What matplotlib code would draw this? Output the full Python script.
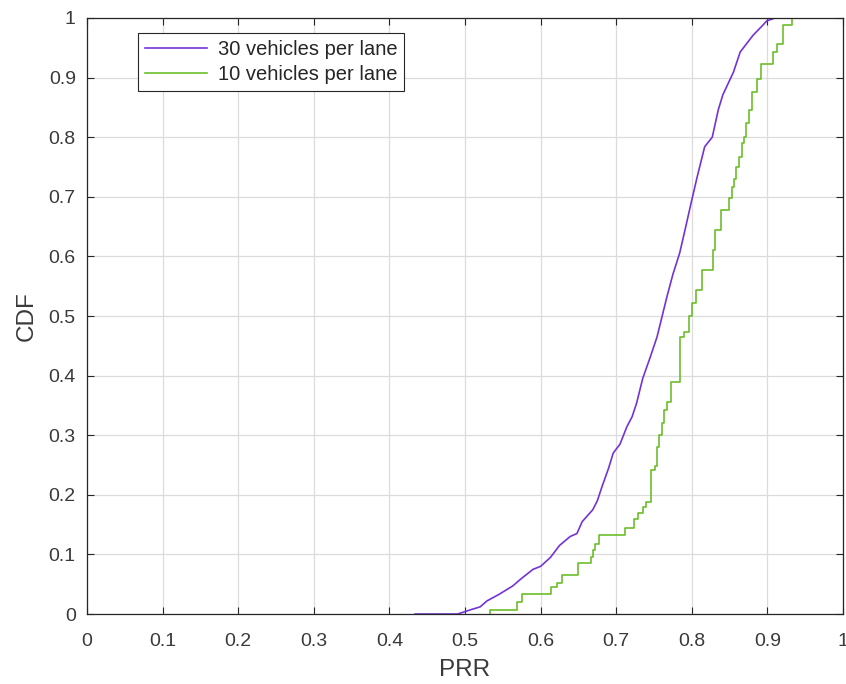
import numpy as np
import matplotlib.pyplot as plt

plt.rcParams['font.family'] = ['Liberation Sans', 'DejaVu Sans']

# 30 vehicles per lane: PRR vs CDF
prr_30 = [0.434, 0.49, 0.50, 0.507, 0.52, 0.529, 0.545, 0.563, 0.575, 0.59, 0.60,
          0.613, 0.625, 0.639, 0.648, 0.655, 0.669, 0.675, 0.681, 0.69, 0.696,
          0.705, 0.714, 0.721, 0.727, 0.735, 0.745, 0.754, 0.767, 0.775, 0.784,
          0.792, 0.80, 0.807, 0.817, 0.827, 0.835, 0.841, 0.855, 0.864, 0.881,
          0.894, 0.899, 0.91]
cdf_30 = [0.0, 0.0, 0.004, 0.007, 0.012, 0.022, 0.033, 0.047, 0.06, 0.075, 0.08,
          0.095, 0.115, 0.13, 0.135, 0.155, 0.175, 0.19, 0.213, 0.245, 0.27,
          0.285, 0.314, 0.331, 0.354, 0.395, 0.431, 0.465, 0.532, 0.57, 0.606,
          0.65, 0.695, 0.733, 0.784, 0.80, 0.846, 0.871, 0.909, 0.943, 0.971,
          0.988, 0.995, 1.0]

# 10 vehicles per lane: step points of the empirical CDF
prr_10 = [0.533, 0.533, 0.569, 0.576, 0.614, 0.622, 0.628, 0.649, 0.666, 0.669,
          0.672, 0.677, 0.711, 0.723, 0.729, 0.736, 0.740, 0.746, 0.751, 0.754,
          0.757, 0.760, 0.763, 0.767, 0.772, 0.784, 0.790, 0.796, 0.800, 0.805,
          0.814, 0.828, 0.831, 0.838, 0.849, 0.853, 0.856, 0.859, 0.862, 0.866,
          0.869, 0.872, 0.876, 0.879, 0.886, 0.892, 0.908, 0.912, 0.921, 0.933]
cdf_10 = [0.0, 0.007, 0.02, 0.033, 0.045, 0.052, 0.065, 0.085, 0.095, 0.107,
          0.118, 0.133, 0.144, 0.160, 0.169, 0.180, 0.188, 0.242, 0.248, 0.28,
          0.30, 0.32, 0.342, 0.356, 0.389, 0.465, 0.473, 0.50, 0.522, 0.544,
          0.577, 0.611, 0.644, 0.678, 0.698, 0.716, 0.73, 0.75, 0.767, 0.79,
          0.80, 0.824, 0.846, 0.876, 0.898, 0.923, 0.943, 0.956, 0.988, 1.0]

fig = plt.figure(figsize=(8.46, 6.84), dpi=100)
ax = fig.add_axes([0.1028, 0.1023, 0.8937, 0.8714])

ax.plot(prr_30, cdf_30, color='#7433D6', lw=1.2, label='30 vehicles per lane')
ax.plot(prr_10, cdf_10, color='#6CBF2A', lw=1.2, drawstyle='steps-post',
        label='10 vehicles per lane')

ax.set_xlim(0, 1)
ax.set_ylim(0, 1)
ticks = np.round(np.arange(0, 1.01, 0.1), 1)
labels = ['0' if t == 0 else ('1' if t == 1 else f'{t:g}') for t in ticks]
ax.set_xticks(ticks)
ax.set_yticks(ticks)
ax.set_xticklabels(labels)
ax.set_yticklabels(labels)
ax.grid(True, color='#dcdcdc', lw=0.9)
ax.set_axisbelow(True)
ax.tick_params(direction='in', top=True, right=True, length=5, labelsize=14,
               color='#262626', labelcolor='#3a3a3a')
ax.tick_params(axis='x', pad=14)
ax.tick_params(axis='y', pad=8)
for s in ax.spines.values():
    s.set_color('#262626')
    s.set_linewidth(0.9)

ax.set_xlabel('PRR', fontsize=17.5, color='#3a3a3a', labelpad=6)
ax.set_ylabel('CDF', fontsize=17.5, color='#3a3a3a', labelpad=8)

leg = ax.legend(loc='upper left', bbox_to_anchor=(0.0675, 0.975), borderaxespad=0,
                fontsize=14.5, fancybox=False, framealpha=1, edgecolor='#262626',
                handlelength=3.1, handletextpad=0.5, borderpad=0.35,
                labelspacing=0.3)
leg.get_frame().set_linewidth(0.8)
for t in leg.get_texts():
    t.set_color('#262626')

fig.savefig('out.png', dpi=100)
